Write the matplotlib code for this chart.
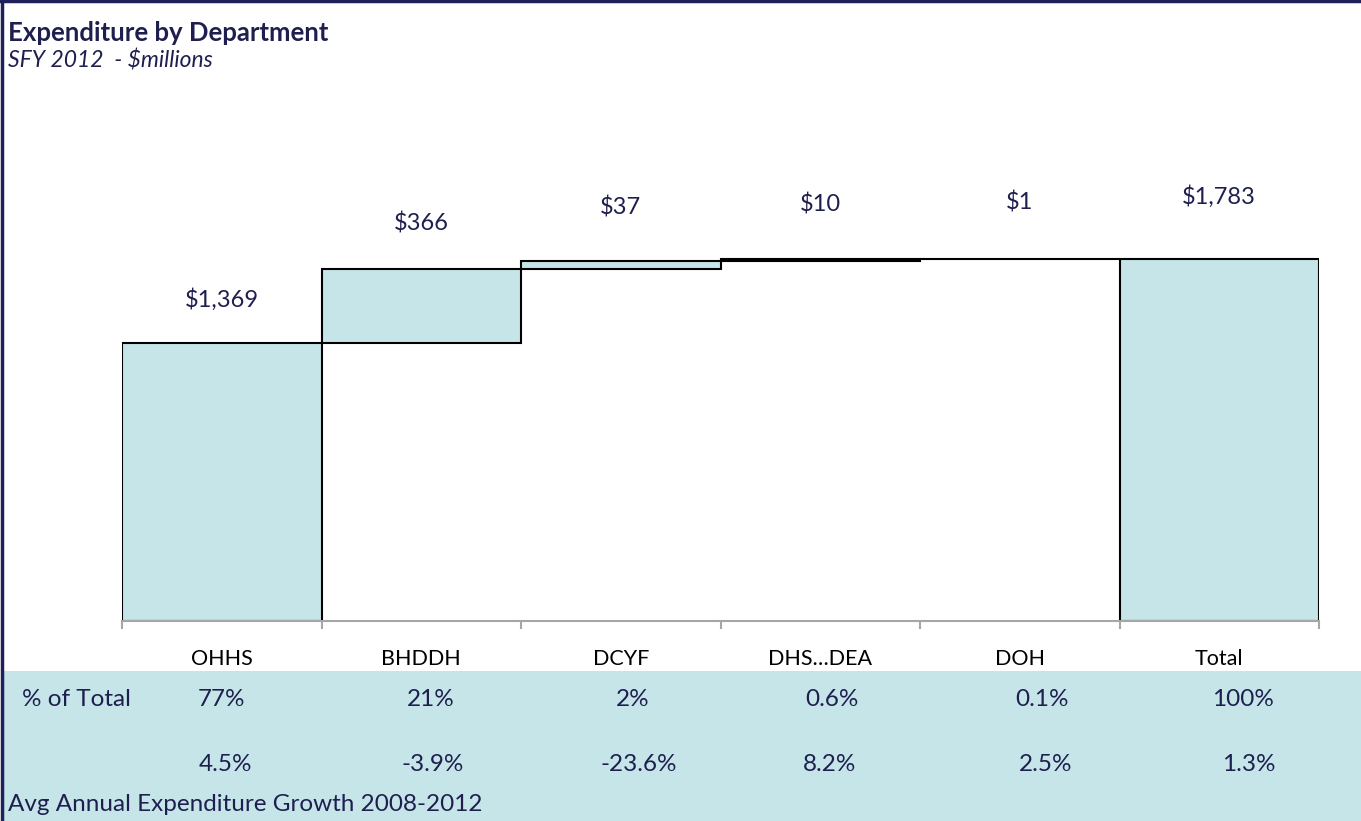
import numpy as np
import matplotlib
matplotlib.use("Agg")
import matplotlib.pyplot as plt
from matplotlib.patches import Rectangle

plt.rcParams['font.family'] = ['Lato', 'DejaVu Sans']

# data
departments = ['OHHS', 'BHDDH', 'DCYF', 'DHS\u2026DEA', 'DOH', 'Total']
spend = [1369, 366, 37, 10, 1]          # $ millions, SFY 2012
pct_total = ['77%', '21%', '2%', '0.6%', '0.1%', '100%']
avg_growth = ['4.5%', '-3.9%', '-23.6%', '8.2%', '2.5%', '1.3%']

total = sum(spend)
values = spend + [total]
bottoms = list(np.cumsum([0] + spend[:-1])) + [0]
labels = ['${:,}'.format(v) for v in values]

navy = '#1f1f4f'
fill = '#c5e5e8'
W, H = 1361, 821

fig = plt.figure(figsize=(W / 100, H / 100), dpi=100)

def fx(px):
    return px / W

def fy(py):
    return 1 - py / H

# plot area in pixels: x 122..1319, baseline at y=621, top at y=150
ax = fig.add_axes([fx(122), fy(621), fx(1319 - 122), (621 - 150) / H])
x = np.arange(len(departments))
ax.bar(x, values, width=1.0, bottom=bottoms, color=fill,
       edgecolor='black', linewidth=1.5, zorder=2)
ax.set_xlim(-0.5, len(departments) - 0.5)
ax.set_ylim(0, 2319)

# label offsets above bar tops (pixels)
offs = [43, 45, 54, 55, 56, 62]
for i, (b, v) in enumerate(zip(bottoms, values)):
    ax.annotate(labels[i], (i, b + v), xytext=(0, offs[i] * 0.72),
                textcoords='offset points', ha='center', va='center',
                fontsize=17, color=navy)

for s in ['top', 'right', 'left']:
    ax.spines[s].set_visible(False)
ax.spines['bottom'].set_color('#a6a6a6')
ax.spines['bottom'].set_linewidth(1.5)
ax.set_yticks([])
ax.set_xticks(x)
ax.set_xticklabels(departments, fontsize=15.5, color='black')
ax.set_xticks(np.arange(-0.5, len(departments)), minor=True)
ax.tick_params(axis='x', which='major', length=0, pad=20)
ax.tick_params(axis='x', which='minor', length=6, width=1.5, color='#a6a6a6')
ax.patch.set_alpha(0)

# title
fig.text(fx(8), fy(33), 'Expenditure by Department', fontsize=18.5,
         fontweight='bold', color=navy, va='center', ha='left')
fig.text(fx(8), fy(61), 'SFY 2012  - $millions', fontsize=16.5,
         style='italic', color=navy, va='center', ha='left')

# table band
fig.patches.append(Rectangle((fx(3), 0), 1 - fx(3), (H - 671) / H,
                             transform=fig.transFigure, facecolor=fill,
                             edgecolor='none', zorder=0))
fig.text(fx(22), fy(699), '% of Total', fontsize=17.5, color=navy,
         va='center', ha='left')
row1_x = [222, 431, 633, 832, 1042, 1243]
row2_x = [225, 433, 639, 830, 1046, 1249]
for px, t in zip(row1_x, pct_total):
    fig.text(fx(px), fy(699), t, fontsize=17.5, color=navy, va='center', ha='center')
for px, t in zip(row2_x, avg_growth):
    fig.text(fx(px), fy(764), t, fontsize=17.5, color=navy, va='center', ha='center')
fig.text(fx(8), fy(804), 'Avg Annual Expenditure Growth 2008-2012', fontsize=17.5,
         color=navy, va='center', ha='left')

# border (left and top)
fig.lines.append(plt.Line2D([fx(1.5), fx(1.5)], [0, 1], transform=fig.transFigure,
                            color='#1f1f5a', linewidth=2.5))
fig.lines.append(plt.Line2D([0, 1], [fy(1), fy(1)], transform=fig.transFigure,
                            color='#1f1f5a', linewidth=2.5))

fig.savefig('out.png', dpi=100, facecolor='white')
